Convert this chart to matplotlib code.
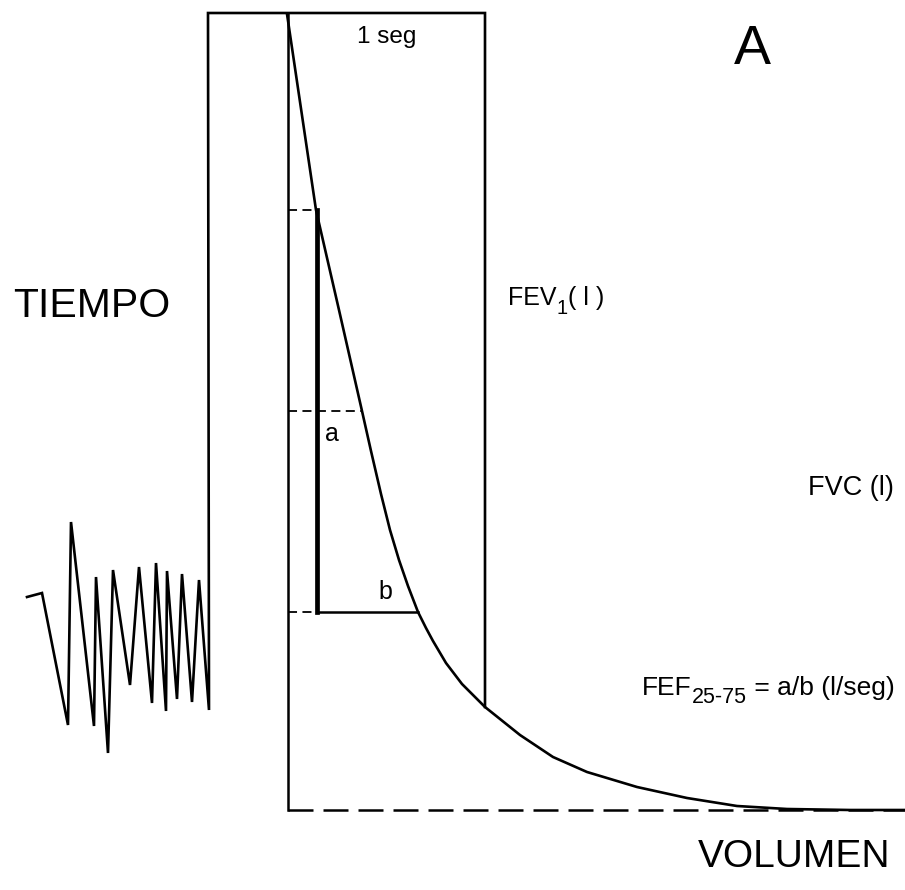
import matplotlib
matplotlib.use("Agg")
import matplotlib.pyplot as plt

plt.rcParams['font.family'] = ['Liberation Sans', 'DejaVu Sans']

# ---- data (diagram coordinates, y grows downward) ----
# spirometer breathing tracing followed by the "1 seg" frame
tracing_x = [27, 42, 68, 71, 94, 96, 108, 113, 130, 139, 152, 156, 166, 167, 177, 182, 192, 199, 209, 208, 485, 485]
tracing_y = [597, 593, 725, 522, 726, 577, 753, 570, 685, 567, 703, 563, 711, 571, 699, 574, 702, 580, 710, 13, 13, 707]

# forced expiration curve
curve_x = [287, 316, 339, 362, 371, 381, 390, 399, 408, 418, 426, 433, 446, 462, 485, 520, 553, 587, 637, 687, 737, 787, 850, 905]
curve_y = [14, 210, 310, 411, 451, 494, 530, 560, 586, 612, 628, 641, 663, 684, 707, 735, 757, 772, 787, 798, 806, 809, 810, 810]

axis_x = 288
axis_top = 13
base_y = 810
right_edge = 905

fev1_y = 210          # volume after 1 s
p25_y = 411           # 25 % level
p75_y = 612           # 75 % level
p25_x = 362
p75_x = 418
fev_line_x = 317

fig = plt.figure(figsize=(9.05, 8.9), dpi=100)
ax = fig.add_axes([0, 0, 1, 1])
ax.set_xlim(0, 905)
ax.set_ylim(890, 0)
ax.axis('off')

k = 'black'
ax.plot(tracing_x, tracing_y, color=k, lw=1.9, solid_joinstyle='miter')
ax.plot(curve_x, curve_y, color=k, lw=1.9)

# axes of the diagram
ax.plot([axis_x, axis_x], [axis_top, base_y], color=k, lw=1.8)
ax.plot([axis_x, right_edge], [base_y, base_y], color=k, lw=1.8, dashes=(10, 4))

# dashed reference levels
for yy, xx in [(fev1_y, fev_line_x), (p25_y, p25_x), (p75_y, fev_line_x)]:
    ax.plot([axis_x, xx], [yy, yy], color=k, lw=1.3, dashes=(5, 3))

# FEV1 vertical and b segment
ax.plot([fev_line_x, fev_line_x], [fev1_y, p75_y], color=k, lw=3.4)
ax.plot([fev_line_x, p75_x], [p75_y, p75_y], color=k, lw=1.8)

ax.text(387, 37, "1 seg", fontsize=17.5, ha='center', va='center')
ax.text(752, 50, "A", fontsize=40, ha='center', va='center')
ax.text(92, 306, "TIEMPO", fontsize=29.5, ha='center', va='center')
ax.text(890, 857, "VOLUMEN", fontsize=28, ha='right', va='center')
ax.text(894, 488, "FVC (l)", fontsize=19.5, ha='right', va='center')
ax.text(332, 434, "a", fontsize=18, ha='center', va='center')
ax.text(385, 592, "b", fontsize=18, ha='center', va='center')

# FEV1 label with subscript
t1 = ax.text(508, 298, "FEV", fontsize=18, ha='left', va='center')
t2 = ax.annotate("1", xy=(1, 0.08), xycoords=t1, fontsize=14.5, ha='left', va='center')
ax.annotate("( l )", xy=(1, 0.5), xycoords=(t2, t1), fontsize=18, ha='left', va='center')

# FEF25-75 label with subscript
f1 = ax.text(642, 688, "FEF", fontsize=19, ha='left', va='center')
f2 = ax.annotate("25-75", xy=(1, 0.12), xycoords=f1, fontsize=15.5, ha='left', va='center')
ax.annotate(" = a/b (l/seg)", xy=(1, 0.5), xycoords=(f2, f1), fontsize=19, ha='left', va='center')

fig.savefig("out.png", dpi=100, facecolor='white')
